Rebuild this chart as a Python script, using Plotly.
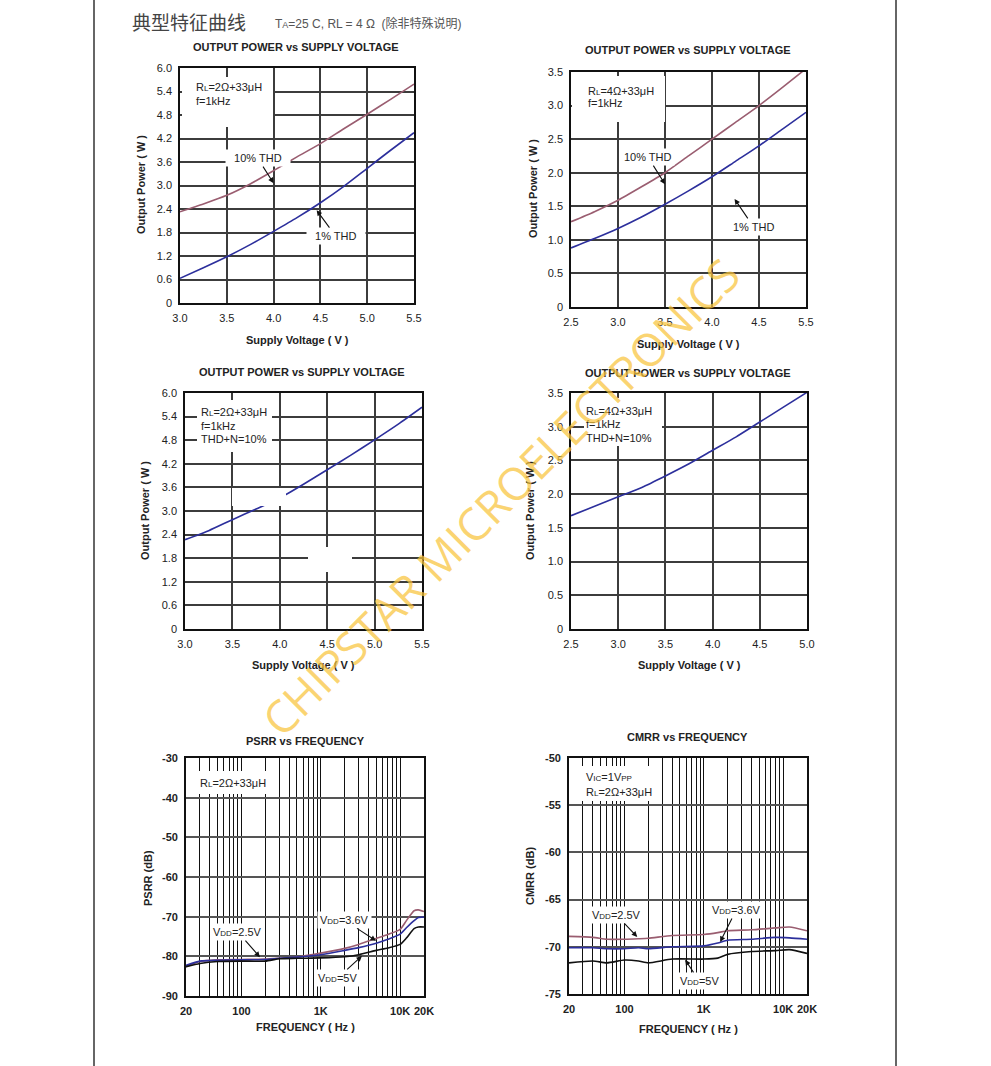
import plotly.graph_objects as go
import numpy as np

W, H = 991, 1066

# ---------------- data ----------------
# Plot 1: RL=2Ω+33µH, f=1kHz
v1 = [3.0, 3.25, 3.5, 3.75, 4.0, 4.25, 4.5, 4.75, 5.0, 5.25, 5.5]
p1_thd10 = [2.33, 2.53, 2.75, 3.04, 3.38, 3.73, 4.07, 4.45, 4.82, 5.2, 5.59]
p1_thd1 = [0.63, 0.9, 1.18, 1.49, 1.83, 2.18, 2.56, 2.98, 3.44, 3.9, 4.35]

# Plot 2: RL=4Ω+33µH, f=1kHz
v2 = [2.5, 2.75, 3.0, 3.25, 3.5, 3.75, 4.0, 4.25, 4.5, 4.75, 5.0]
p2_thd10 = [1.27, 1.42, 1.59, 1.79, 2.0, 2.25, 2.5, 2.75, 3.0, 3.27, 3.55]
p2_thd1 = [0.88, 1.02, 1.17, 1.34, 1.53, 1.73, 1.94, 2.17, 2.40, 2.65, 2.9]
p2_xticklabels = ["2.5", "3.0", "3.5", "4.0", "4.5", "5.5"]

# Plot 3: RL=2Ω+33µH, THD+N=10%
v3 = [3.0, 3.25, 3.5, 3.75, 4.0, 4.25, 4.5, 4.75, 5.0, 5.25, 5.5]
p3 = [2.27, 2.5, 2.78, 3.05, 3.33, 3.68, 4.05, 4.42, 4.81, 5.21, 5.64]

# Plot 4: RL=4Ω+33µH, THD+N=10%
v4 = [2.5, 2.75, 3.0, 3.25, 3.5, 3.75, 4.0, 4.25, 4.5, 4.75, 5.0]
p4 = [1.68, 1.82, 1.96, 2.1, 2.27, 2.45, 2.65, 2.85, 3.07, 3.29, 3.51]

# PSRR vs frequency
f_psrr = [20, 30, 50, 100, 200, 300, 500, 1000, 2000, 3000, 5000, 7000, 10000, 12000, 15000, 17000, 20000]
psrr_25 = [-82.6, -81.3, -80.9, -80.8, -80.7, -80.5, -80.2, -79.2, -78.0, -77.0, -75.5, -74.5, -73.2, -71.0, -68.5, -68.3, -68.7]
psrr_36 = [-82.3, -81.2, -81.0, -80.9, -80.8, -80.5, -80.2, -79.6, -78.5, -77.8, -76.7, -75.7, -74.4, -72.8, -71.0, -70.2, -70.1]
psrr_5 = [-82.6, -81.8, -81.3, -81.2, -81.2, -80.6, -80.5, -80.4, -80.1, -79.6, -78.5, -77.9, -77.0, -75.4, -73.0, -72.6, -72.6]

# CMRR vs frequency
f_cmrr = [20, 40, 60, 100, 150, 200, 400, 1000, 1500, 2000, 4000, 8000, 12000, 20000]
cmrr_25 = [-68.9, -69.0, -69.2, -69.2, -69.15, -69.1, -68.8, -68.7, -68.5, -68.3, -68.2, -68.0, -67.9, -68.3]
cmrr_36 = [-70.1, -70.1, -70.2, -70.2, -70.1, -70.2, -70.0, -69.9, -69.6, -69.3, -69.2, -69.0, -69.05, -69.2]
cmrr_5 = [-71.7, -71.5, -71.7, -71.4, -71.5, -71.7, -71.3, -71.3, -71.2, -70.8, -70.5, -70.4, -70.3, -70.7]

log_major = [20, 100, 1000, 10000, 20000]
log_major_labels = ["20", "100", "1K", "10K", "20K"]

# ---------------- helpers ----------------
def px(x):
    return x / W

def py(y):
    return 1 - y / H

def sub(s):
    return "<span style='font-size:8px'>%s</span>" % s

MAUVE = "#9a5d70"
BLUE = "#2c2f9c"
BLACK = "#111111"
FONT = "Liberation Sans, Arial, sans-serif"

fig = go.Figure()

def add_line(x, y, color, xa, ya, name):
    fig.add_trace(go.Scatter(x=x, y=y, mode="lines", line=dict(color=color, width=1.6, shape="spline", smoothing=0.6),
                             xaxis=xa, yaxis=ya, name=name, showlegend=False, hoverinfo="skip"))

add_line(v1, p1_thd10, MAUVE, "x", "y", "10% THD")
add_line(v1, p1_thd1, BLUE, "x", "y", "1% THD")
add_line(v2, p2_thd10, MAUVE, "x2", "y2", "10% THD")
add_line(v2, p2_thd1, BLUE, "x2", "y2", "1% THD")
add_line(v3, p3, BLUE, "x3", "y3", "THD+N=10%")
add_line(v4, p4, BLUE, "x4", "y4", "THD+N=10%")
add_line(f_psrr, psrr_25, MAUVE, "x5", "y5", "VDD=2.5V")
add_line(f_psrr, psrr_36, BLUE, "x5", "y5", "VDD=3.6V")
add_line(f_psrr, psrr_5, BLACK, "x5", "y5", "VDD=5V")
add_line(f_cmrr, cmrr_25, MAUVE, "x6", "y6", "VDD=2.5V")
add_line(f_cmrr, cmrr_36, BLUE, "x6", "y6", "VDD=3.6V")
add_line(f_cmrr, cmrr_5, BLACK, "x6", "y6", "VDD=5V")

def lin_axis(x0, x1, rng, vals, texts, anchor, bold=False):
    return dict(domain=[x0, x1], range=rng, tickvals=vals, ticktext=texts,
                showgrid=True, gridcolor="#3c3c3c", gridwidth=1.5, showline=True, mirror=True,
                linecolor="#111", linewidth=1.6, zeroline=False, ticks="outside", ticklen=4,
                tickcolor="rgba(0,0,0,0)", tickfont=dict(family=FONT, size=11, color="#222",
                                                            weight="bold" if bold else "normal"),
                anchor=anchor, fixedrange=True, automargin=False)

def fmt(vals, nd):
    return ["0" if v == 0 else ("%." + str(nd) + "f") % v for v in vals]

y_06 = [0, 0.6, 1.2, 1.8, 2.4, 3.0, 3.6, 4.2, 4.8, 5.4, 6.0]
y_05 = [0, 0.5, 1.0, 1.5, 2.0, 2.5, 3.0, 3.5]
x_30 = [3.0, 3.5, 4.0, 4.5, 5.0, 5.5]
x_25 = [2.5, 3.0, 3.5, 4.0, 4.5, 5.0]

layout = dict(
    template="none",
    width=W, height=H, margin=dict(l=0, r=0, t=0, b=0, pad=0, autoexpand=False),
    paper_bgcolor="white", plot_bgcolor="white", showlegend=False, autosize=False,
    font=dict(family=FONT, size=11, color="#222"),
)

# plot 1
layout["xaxis"] = lin_axis(px(180), px(414), [3.0, 5.5], x_30, fmt(x_30, 1), "y")
layout["yaxis"] = lin_axis(py(303), py(68), [0, 6.0], y_06, fmt(y_06, 1), "x")
# plot 2
layout["xaxis2"] = lin_axis(px(571), px(806), [2.5, 5.0], x_25, p2_xticklabels, "y2")
layout["yaxis2"] = lin_axis(py(307), py(72), [0, 3.5], y_05, fmt(y_05, 1), "x2")
# plot 3
layout["xaxis3"] = lin_axis(px(185), px(422), [3.0, 5.5], x_30, fmt(x_30, 1), "y3")
layout["yaxis3"] = lin_axis(py(629), py(393), [0, 6.0], y_06, fmt(y_06, 1), "x3")
# plot 4
layout["xaxis4"] = lin_axis(px(571), px(807), [2.5, 5.0], x_25, fmt(x_25, 1), "y4")
layout["yaxis4"] = lin_axis(py(629), py(393), [0, 3.5], y_05, fmt(y_05, 1), "x4")

def log_axis(x0, x1, anchor):
    return dict(domain=[x0, x1], type="log", range=[np.log10(20), np.log10(20000)],
                tickvals=log_major, ticktext=log_major_labels,
                showgrid=True, gridcolor="#111", gridwidth=1.3, showline=True, mirror=True,
                linecolor="#111", linewidth=1.6, zeroline=False, ticks="outside", ticklen=4,
                tickcolor="rgba(0,0,0,0)", tickfont=dict(family=FONT, size=11, color="#222", weight="bold"),
                minor=dict(dtick="D1", showgrid=True, gridcolor="#111", gridwidth=1.3, ticks=""),
                anchor=anchor, fixedrange=True, automargin=False)

psrr_ticks = [-90, -80, -70, -60, -50, -40, -30]
cmrr_ticks = [-75, -70, -65, -60, -55, -50]
layout["xaxis5"] = log_axis(px(186), px(424), "y5")
ya5 = lin_axis(py(996), py(758), [-90, -30], psrr_ticks, [str(v) for v in psrr_ticks], "x5", bold=True)
ya5["gridcolor"] = "#555"
layout["yaxis5"] = ya5
layout["xaxis6"] = log_axis(px(569), px(807), "y6")
ya6 = lin_axis(py(994), py(758), [-75, -50], cmrr_ticks, [str(v) for v in cmrr_ticks], "x6", bold=True)
ya6["gridcolor"] = "#555"
layout["yaxis6"] = ya6

fig.update_layout(**layout)

# ---------------- shapes: white masks and page borders ----------------
shapes = []
def white_rect(x0, y0, x1, y1):
    shapes.append(dict(type="rect", xref="paper", yref="paper", x0=px(x0), x1=px(x1), y0=py(y1), y1=py(y0),
                       fillcolor="white", line=dict(width=0), layer="above"))

white_rect(182, 77, 273, 127)
white_rect(572, 76, 665, 122)
white_rect(197, 400, 272, 452)
white_rect(232, 488, 286, 506)
white_rect(308, 547, 352, 572)
white_rect(584, 398, 662, 446)
white_rect(188, 771, 277, 794)
white_rect(571, 766, 655, 801)

for xb in (94, 896):
    shapes.append(dict(type="line", xref="paper", yref="paper", x0=px(xb), x1=px(xb), y0=0, y1=1,
                       line=dict(color="#666", width=2)))
fig.update_layout(shapes=shapes)

# ---------------- annotations ----------------
ann = []
def text(x, y, s, size=11, bold=False, angle=0, xanchor="center", color="#222", family=FONT):
    ann.append(dict(x=px(x), y=py(y), xref="paper", yref="paper", text=("<b>%s</b>" % s) if bold else s,
                    showarrow=False, textangle=angle, xanchor=xanchor, yanchor="middle",
                    font=dict(family=family, size=size, color=color)))

# header
text(130, 21, "典型特征曲线", size=19, xanchor="left", color="#444", family="Noto Sans CJK SC")
text(273, 23, "T<span style='font-size:9px'>A</span>=25 C, RL = 4 Ω  (除非特殊说明)", size=12,
     xanchor="left", color="#555", family="Liberation Sans, Noto Sans CJK SC")

# titles
text(296, 47, "OUTPUT POWER vs SUPPLY VOLTAGE", bold=True)
text(688, 50, "OUTPUT POWER vs SUPPLY VOLTAGE", bold=True)
text(302, 372, "OUTPUT POWER vs SUPPLY VOLTAGE", bold=True)
text(688, 373, "OUTPUT POWER vs SUPPLY VOLTAGE", bold=True)
text(305, 741, "PSRR vs FREQUENCY", bold=True)
text(687, 737, "CMRR vs FREQUENCY", bold=True)

# axis titles
text(297, 340, "Supply Voltage ( V )", bold=True)
text(688, 344, "Supply Voltage ( V )", bold=True)
text(303, 665, "Supply Voltage ( V )", bold=True)
text(689, 665, "Supply Voltage ( V )", bold=True)
text(305, 1027, "FREQUENCY ( Hz )", bold=True)
text(688, 1029, "FREQUENCY ( Hz )", bold=True)
text(141, 185, "Output Power ( W )", bold=True, angle=-90)
text(533, 189, "Output Power ( W )", bold=True, angle=-90)
text(145, 511, "Output Power ( W )", bold=True, angle=-90)
text(530, 511, "Output Power ( W )", bold=True, angle=-90)
text(148, 878, "PSRR (dB)", bold=True, angle=-90)
text(530, 876, "CMRR (dB)", bold=True, angle=-90)

# condition boxes (text)
def cond(x, y, lines, dy=14):
    for i, l in enumerate(lines):
        text(x, y + i * dy, l, xanchor="left")

RL = "R" + sub("L")
cond(194, 87, [RL + "=2Ω+33μH", "f=1kHz"])
cond(586, 91, [RL + "=4Ω+33μH", "f=1kHz"], dy=12)
cond(199, 412, [RL + "=2Ω+33μH", "f=1kHz", "THD+N=10%"], dy=13.5)
cond(584, 411, [RL + "=4Ω+33μH", "f=1kHz", "THD+N=10%"], dy=13.5)
cond(198, 783, [RL + "=2Ω+33μH"])
cond(584, 777, ["V" + sub("IC") + "=1V" + sub("PP"), RL + "=2Ω+33μH"], dy=14.5)

# arrow labels (tip in data coordinates)
def arrow(xa, ya, x, y, ax, ay, s):
    ann.append(dict(x=x, y=y, xref=xa, yref=ya, ax=ax, ay=ay, text=s, showarrow=True,
                    arrowhead=2, arrowsize=1, arrowwidth=1.1, arrowcolor="#111",
                    bgcolor="white", borderpad=2, font=dict(family=FONT, size=11, color="#222")))

VDD = "V" + sub("DD")
arrow("x", "y", 4.0, 3.06, -16, -25, "  10% THD  ")
arrow("x", "y", 4.46, 2.37, 19, 26, "  1% THD  ")
arrow("x2", "y2", 3.5, 1.83, -17, -27, "10% THD")
arrow("x2", "y2", 4.24, 1.61, 19, 28, "1% THD")
arrow("x5", "y5", np.log10(171), -80.2, -22, -25, VDD + "=2.5V")
arrow("x5", "y5", np.log10(4970), -76.1, -32, -21, VDD + "=3.6V")
arrow("x5", "y5", np.log10(3300), -79.9, -24, 22, VDD + "=5V")
arrow("x6", "y6", np.log10(145), -68.95, -21, -22, VDD + "=2.5V")
arrow("x6", "y6", np.log10(1610), -69.48, 16, -32, VDD + "=3.6V")
arrow("x6", "y6", np.log10(583), -71.38, 14, 21, VDD + "=5V")

# watermark
ann.append(dict(x=px(500), y=py(496), xref="paper", yref="paper", text="CHIPSTAR MICROELECTRONICS",
                showarrow=False, textangle=-45, font=dict(family="Open Sans, Liberation Sans", size=45,
                                                          color="rgba(249,196,60,0.72)")))

fig.update_layout(annotations=ann)
fig.write_html("out.html", config={"displayModeBar": False},
               post_script="document.body.style.margin='0';document.body.style.overflow='hidden';")
